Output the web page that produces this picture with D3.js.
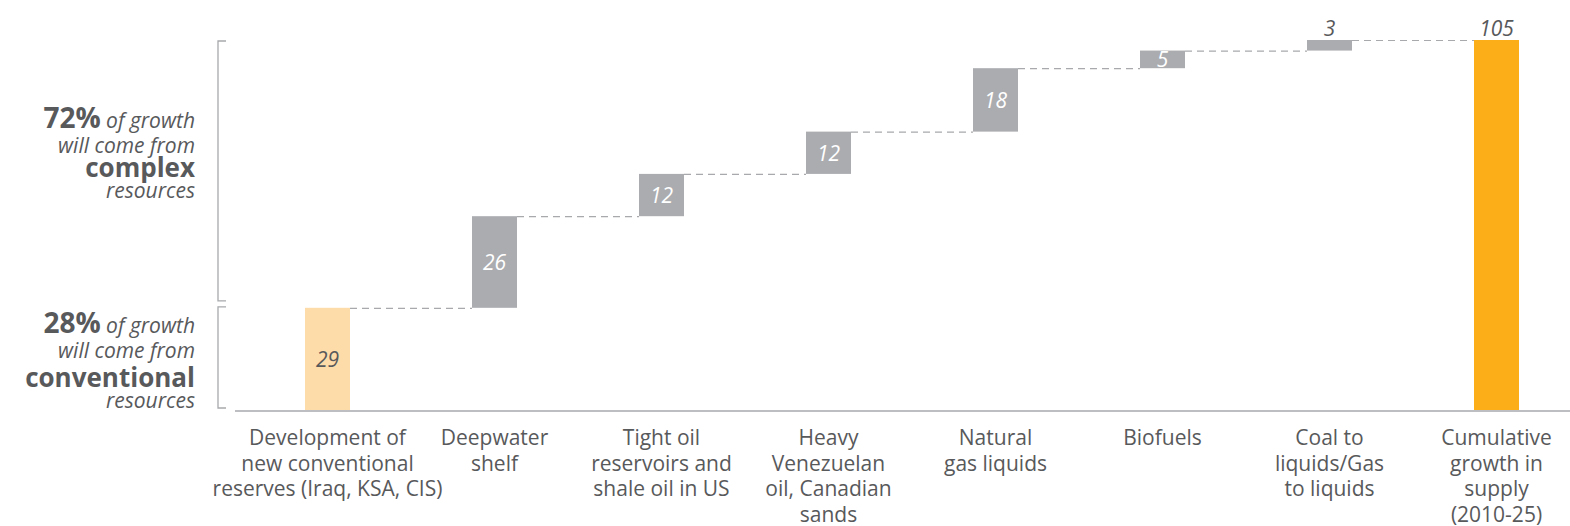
<!DOCTYPE html>
<html><head><meta charset="utf-8">
<script src="https://cdn.jsdelivr.net/npm/d3@7"></script>
<style>body{margin:0;background:#fff}svg{display:block}</style>
</head><body><svg id="c" width="1570" height="526"></svg>
<script>
const categories = [
  "Development of\nnew conventional\nreserves (Iraq, KSA, CIS)",
  "Deepwater\nshelf",
  "Tight oil\nreservoirs and\nshale oil in US",
  "Heavy\nVenezuelan\noil, Canadian\nsands",
  "Natural\ngas liquids",
  "Biofuels",
  "Coal to\nliquids/Gas\nto liquids",
  "Cumulative\ngrowth in\nsupply\n(2010-25)"
];
const values = [29, 26, 12, 12, 18, 5, 3, 105];
const kinds = ["conventional", "complex", "complex", "complex", "complex", "complex", "complex", "total"];
const valueLabels = ["29", "26", "12", "12", "18", "5", "3", "105"];
const groupShares = ["72%", "28%"];

const svg = d3.select("#c");
const gray = "#58595b";
const font = "'Open Sans', sans-serif";
const colors = {conventional: "#fddcaa", complex: "#abacaf", total: "#fbae17"};

const x = d3.scaleBand().domain(categories).range([244, 1580]).padding(0);
const y = d3.scaleLinear().domain([0, 105]).range([410, 40]);
const bw = 45;

let cum = 0;
const bars = values.map((v, i) => {
  let start, end;
  if (kinds[i] === "total") { start = 0; end = v; }
  else { start = cum; end = cum + v; cum = end; }
  return {cat: categories[i], v, start, end, kind: kinds[i], label: valueLabels[i], i};
});
const cx = d => x(d.cat) + x.bandwidth() / 2;

svg.append("line").attr("x1", 235).attr("x2", 1570).attr("y1", y(0) + 1).attr("y2", y(0) + 1)
  .attr("stroke", "#a7a9ac").attr("stroke-width", 1.5);

bars.slice(0, -1).forEach((d, i) => {
  const n = bars[i + 1];
  svg.append("line")
    .attr("x1", cx(d) + bw / 2).attr("x2", cx(n) - bw / 2)
    .attr("y1", y(d.end) + 0.5).attr("y2", y(d.end) + 0.5)
    .attr("stroke", "#a7a9ac").attr("stroke-width", 1.2).attr("stroke-dasharray", "7,5");
});

svg.selectAll("rect.bar").data(bars).enter().append("rect")
  .attr("x", d => cx(d) - bw / 2).attr("width", bw)
  .attr("y", d => y(d.end)).attr("height", d => y(d.start) - y(d.end))
  .attr("fill", d => colors[d.kind]);

svg.selectAll("text.val").data(bars).enter().append("text")
  .attr("x", cx)
  .attr("y", d => {
    if (d.v <= 3 || d.kind === "total") return y(d.end) - 4;
    return (y(d.start) + y(d.end)) / 2 + 8;
  })
  .attr("text-anchor", "middle")
  .attr("font-family", font).attr("font-style", "italic").attr("font-size", 21)
  .attr("fill", d => (d.kind === "complex" && d.v > 3) ? "#fff" : gray)
  .text(d => d.label);

svg.selectAll("text.cat").data(bars).enter().append("text")
  .attr("x", cx).attr("y", 445)
  .attr("text-anchor", "middle")
  .attr("font-family", font).attr("font-size", 21).attr("fill", gray)
  .each(function(d) {
    d.cat.split("\n").forEach((line, k) => {
      d3.select(this).append("tspan").attr("x", cx(d)).attr("dy", k === 0 ? 0 : 25.5).text(line);
    });
  });

function bracket(y1, y2) {
  svg.append("path")
    .attr("d", `M226,${y1}H218V${y2}H226`)
    .attr("fill", "none").attr("stroke", "#a7a9ac").attr("stroke-width", 1.3);
}
bracket(y(105) + 1, y(29) - 7);
bracket(y(29) - 1, y(0) - 2);

function annot(lines) {
  lines.forEach(l => {
    const t = svg.append("text").attr("x", 195).attr("y", l.y).attr("text-anchor", "end")
      .attr("font-family", font).attr("fill", gray);
    l.parts.forEach(p => {
      t.append("tspan").attr("font-size", p.size).attr("font-weight", p.bold ? 700 : 400)
        .attr("font-style", p.italic ? "italic" : "normal").text(p.t);
    });
  });
}
annot([
  {y: 128, parts: [{t: groupShares[0], size: 28, bold: true}, {t: " of growth", size: 21, italic: true}]},
  {y: 153, parts: [{t: "will come from", size: 21, italic: true}]},
  {y: 177, parts: [{t: "complex", size: 26, bold: true}]},
  {y: 198, parts: [{t: "resources", size: 21, italic: true}]},
  {y: 333, parts: [{t: groupShares[1], size: 28, bold: true}, {t: " of growth", size: 21, italic: true}]},
  {y: 358, parts: [{t: "will come from ", size: 21, italic: true}]},
  {y: 387, parts: [{t: "conventional", size: 26, bold: true}]},
  {y: 408, parts: [{t: "resources", size: 21, italic: true}]}
]);
</script></body></html>
